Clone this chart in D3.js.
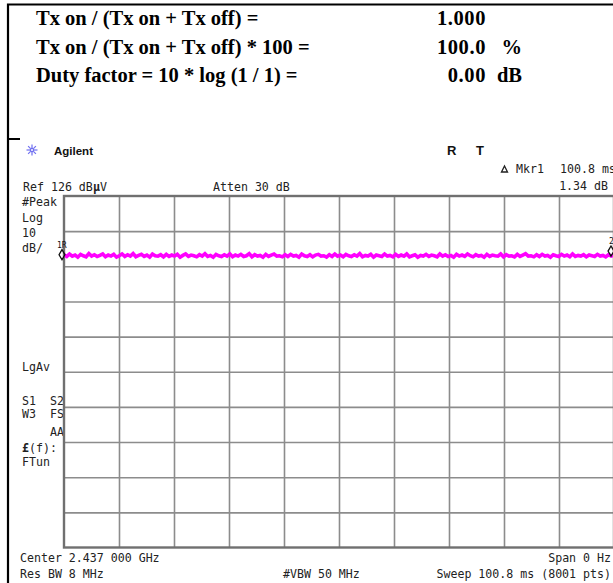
<!DOCTYPE html>
<html>
<head>
<meta charset="utf-8">
<script src="https://cdn.jsdelivr.net/npm/d3@7"></script>
<style>
  body { margin: 0; background: #fff; }
  svg { display: block; }
  .mono { font-family: "DejaVu Sans Mono", monospace; font-size: 11.6px; fill: #222; }
  .serif { font-family: "Liberation Serif", "Times New Roman", serif; font-weight: bold; font-size: 20.5px; fill: #000; }
</style>
</head>
<body>
<div id="chart"></div>
<script>
// Duty cycle measurement - zero span sweep

const summaryLabels = [
  "Tx on / (Tx on + Tx off) =",
  "Tx on / (Tx on + Tx off) * 100 =",
  "Duty factor = 10 * log (1 / 1) ="
];
const summaryValues = ["1.000", "100.0", "0.00"];
const summaryUnits = ["", "%", "dB"];

const refLevel = 126;      // dBuV, top of graticule
const dbPerDiv = 10;
const sweepTime = 100.8;   // ms
const xDivs = [0, 1, 2, 3, 4, 5, 6, 7, 8, 9, 10];
const yDivs = [0, 1, 2, 3, 4, 5, 6, 7, 8, 9, 10];

// trace level (dBuV), evenly spaced across the sweep
const traceValues = [
  109.3,108.8,109.5,108.9,109.2,108.6,109.4,109.0,108.7,109.6,108.9,109.3,108.8,109.1,109.5,108.7,109.2,108.9,109.4,108.6,
  109.0,109.5,108.8,109.3,108.9,109.6,108.7,109.1,109.4,108.8,109.2,108.6,109.5,109.0,108.9,109.3,108.7,109.4,108.8,109.2,
  108.9,109.4,108.6,109.1,109.5,108.8,109.2,109.0,108.7,109.3,108.9,109.6,108.8,109.1,108.6,109.4,109.0,108.8,109.3,108.9,
  109.5,108.7,109.2,108.9,109.4,108.8,109.0,109.6,108.7,109.3,108.9,109.1,108.6,109.4,108.8,109.2,109.5,108.9,109.0,108.7,
  109.3,108.8,109.4,108.9,109.1,108.6,109.5,109.0,108.8,109.3,108.7,109.2,109.4,108.9,109.0,108.6,109.3,108.8,109.5,108.9,
  109.2,108.7,109.4,109.0,108.8,109.3,108.9,109.6,108.7,109.1,108.9,109.4,108.6,109.2,109.0,108.8,109.5,108.9,109.1,108.7,
  109.4,108.8,109.2,108.9,109.5,108.7,109.0,109.3,108.6,109.1,108.9,109.4,108.8,109.2,109.0,108.7,109.5,108.9,109.3,108.8,
  109.1,108.6,109.4,108.9,109.2,108.8,109.5,109.0,108.7,109.3,108.9,109.1,108.6,109.4,108.8,109.2,109.0,108.9,109.5,108.7,
  109.3,108.9,109.0,108.7,109.4,108.8,109.2,109.6,108.9,109.0,108.7,109.3,108.8,109.4,108.9,109.1,108.6,109.3,109.0,108.8,
  109.4,108.9,109.2,108.7,109.5,108.8,109.1,108.9,109.3,108.7,109.2,109.0,108.8,109.4,108.9,109.1,108.7,109.3,108.9,109.2
];

const leftLabels = [
  { t: "#Peak", y: 206 }, { t: "Log", y: 222 }, { t: "10", y: 237 }, { t: "dB/", y: 252 },
  { t: "LgAv", y: 371 }, { t: "S1  S2", y: 405 }, { t: "W3  FS", y: 418 },
  { t: "    AA", y: 436 }, { t: "FTun", y: 466 }
];

const W = 613, H = 583;
const plot = { left: 64, top: 196, right: 614, bottom: 547.5 };

const svg = d3.select("#chart").append("svg")
  .attr("width", W).attr("height", H);

svg.append("rect").attr("width", W).attr("height", H).attr("fill", "#fff");

// outer black frame of the report
svg.append("path")
  .attr("d", `M8,583 L8,4.5 L613,4.5 M8,139 L20,139`)
  .attr("fill", "none").attr("stroke", "#000").attr("stroke-width", 2.2);

// summary text
const rows = [25, 53.5, 82];
summaryLabels.forEach((s, i) => {
  svg.append("text").attr("class", "serif").attr("x", 36).attr("y", rows[i]).text(s);
  svg.append("text").attr("class", "serif").attr("x", 486).attr("y", rows[i])
    .attr("text-anchor", "end").style("letter-spacing", "0.6px").text(summaryValues[i]);
  svg.append("text").attr("class", "serif").attr("x", 522).attr("y", rows[i])
    .attr("text-anchor", "end").text(summaryUnits[i]);
});

// Agilent logo
const star = svg.append("g").attr("transform", "translate(32,150)")
  .attr("stroke", "#6f6ff0").attr("stroke-width", 1.2);
d3.range(8).forEach(k => {
  const a = k * Math.PI / 4;
  star.append("line").attr("x1", 2 * Math.cos(a)).attr("y1", 2 * Math.sin(a))
    .attr("x2", 5.5 * Math.cos(a)).attr("y2", 5.5 * Math.sin(a));
});
star.append("circle").attr("r", 1.6).attr("fill", "none");
svg.append("text").attr("x", 54).attr("y", 155)
  .style("font-family", "Liberation Sans, Arial, sans-serif").style("font-weight", "bold")
  .style("font-size", "11.5px").attr("fill", "#111").text("Agilent");

svg.append("text").attr("x", 447).attr("y", 155)
  .style("font-family", "Liberation Sans, Arial, sans-serif").style("font-weight", "bold")
  .style("font-size", "13px").attr("fill", "#111").text("R");
svg.append("text").attr("x", 476).attr("y", 155)
  .style("font-family", "Liberation Sans, Arial, sans-serif").style("font-weight", "bold")
  .style("font-size", "13px").attr("fill", "#111").text("T");

function mono(x, y, s, anchor) {
  return svg.append("text").attr("class", "mono").attr("x", x).attr("y", y)
    .attr("text-anchor", anchor || "start").text(s);
}

// marker readout
svg.append("path").attr("d", "M501.5,172 L504.5,166 L507.5,172 Z")
  .attr("fill", "none").attr("stroke", "#222").attr("stroke-width", 1.3);
mono(516, 173, "Mkr1");
mono(560, 173, "100.8 ms");
mono(608, 190, "1.34 dB", "end");

mono(23, 191, "Ref 126 dB");
svg.append("text").attr("class", "mono").attr("x", 93).attr("y", 191)
  .style("font-weight", "bold").text("µ");
mono(100, 191, "V");
mono(213, 191, "Atten 30 dB");

leftLabels.forEach(d => {
  mono(22, d.y, d.t).attr("xml:space", "preserve").style("white-space", "pre");
});
const fLabel = mono(22, 452, "");
fLabel.append("tspan").style("font-weight", "bold").text("£");
fLabel.append("tspan").text("(f):");

// scales
const x = d3.scaleLinear().domain([0, sweepTime]).range([plot.left, plot.right]);
const y = d3.scaleLinear().domain([refLevel - 10 * dbPerDiv, refLevel]).range([plot.bottom, plot.top]);
const xDiv = d3.scaleLinear().domain([0, 10]).range([plot.left, plot.right]);
const yDiv = d3.scaleLinear().domain([0, 10]).range([plot.top, plot.bottom]);

// graticule via axes
const gx = svg.append("g").attr("transform", `translate(0,${plot.bottom})`)
  .call(d3.axisBottom(xDiv).tickValues(xDivs.slice(1, -1)).tickSize(-(plot.bottom - plot.top)).tickFormat(""));
const gy = svg.append("g").attr("transform", `translate(${plot.left},0)`)
  .call(d3.axisLeft(yDiv).tickValues(yDivs.slice(1, -1)).tickSize(-(plot.right - plot.left)).tickFormat(""));
[gx, gy].forEach(g => {
  g.select(".domain").remove();
  g.selectAll(".tick line").attr("stroke", "#8c8c8c").attr("stroke-width", 1.6);
});
svg.append("rect")
  .attr("x", plot.left).attr("y", plot.top)
  .attr("width", plot.right - plot.left).attr("height", plot.bottom - plot.top)
  .attr("fill", "none").attr("stroke", "#707070").attr("stroke-width", 2.4);

// trace
svg.append("clipPath").attr("id", "clip").append("rect")
  .attr("x", plot.left).attr("y", plot.top)
  .attr("width", plot.right - plot.left).attr("height", plot.bottom - plot.top);
const tStep = sweepTime / (traceValues.length - 1);
const line = d3.line().x((d, i) => x(i * tStep)).y(d => y(d));
svg.append("path").datum(traceValues)
  .attr("clip-path", "url(#clip)")
  .attr("d", line).attr("fill", "none")
  .attr("stroke", "#ff00ff").attr("stroke-width", 3.6).attr("stroke-linejoin", "miter");

// markers
const mLevel = traceValues[0];
svg.append("path")
  .attr("d", d3.symbol(d3.symbolDiamond, 30)())
  .attr("transform", `translate(${x(0) - 2},${y(mLevel)})`)
  .attr("fill", "none").attr("stroke", "#111").attr("stroke-width", 1.3);
svg.append("text").attr("x", 57).attr("y", 248)
  .style("font-family", "DejaVu Sans Mono, monospace").style("font-size", "8px").attr("fill", "#111").text("1R");
svg.append("path")
  .attr("d", d3.symbol(d3.symbolDiamond, 30)())
  .attr("transform", `translate(${x(sweepTime) - 3},${y(traceValues[traceValues.length - 1]) - 4})`)
  .attr("fill", "none").attr("stroke", "#111").attr("stroke-width", 1.3);
svg.append("text").attr("x", 609).attr("y", 244)
  .style("font-family", "DejaVu Sans Mono, monospace").style("font-size", "8px").attr("fill", "#111").text("2");

// footer
mono(20, 562, "Center 2.437 000 GHz");
mono(611, 562, "Span 0 Hz", "end");
mono(20, 578, "Res BW 8 MHz");
mono(283, 578, "#VBW 50 MHz");
mono(611, 578, "Sweep 100.8 ms (8001 pts)", "end");
</script>
</body>
</html>
